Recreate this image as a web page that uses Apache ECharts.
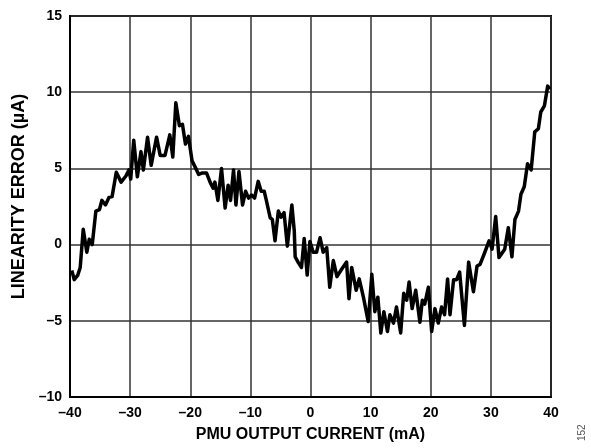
<!DOCTYPE html>
<html>
<head>
<meta charset="utf-8">
<script src="https://cdn.jsdelivr.net/npm/echarts@6/dist/echarts.min.js"></script>
<style>html,body{margin:0;padding:0;background:#fff}#c{width:591px;height:448px}</style>
</head>
<body>
<div id="c"></div>
<script>
const currentMA = [
  -39.7,-39.3,-38.7,-38.3,-37.8,-37.2,-36.8,-36.3,-35.7,-35.1,-34.7,-34.1,-33.5,-33.0,-32.3,-31.5,-30.7,-30.2,-29.9,-29.4,
  -28.8,-28.2,-27.8,-27.1,-26.5,-25.6,-25.0,-24.2,-23.9,-23.4,-22.9,-22.4,-21.8,-21.3,-20.8,-20.3,-19.7,-19.2,-18.6,-18.0,
  -17.3,-16.7,-16.2,-15.9,-15.4,-14.8,-14.2,-13.7,-13.3,-12.8,-12.4,-11.9,-11.3,-10.8,-10.3,-9.8,-9.3,-8.7,-8.2,-7.7,
  -7.4,-6.7,-6.35,-5.9,-5.35,-4.9,-4.4,-3.85,-3.1,-2.7,-2.55,-2.0,-1.5,-1.05,-0.55,-0.1,0.45,1.0,1.6,2.1,
  2.7,3.2,3.8,4.4,5.2,6.0,6.4,6.85,7.6,8.1,8.8,9.6,10.2,10.7,11.2,11.7,12.2,12.8,13.2,13.8,
  14.3,15.0,15.5,16.0,16.4,16.9,17.5,18.2,18.6,19.0,19.6,20.15,20.7,21.25,21.8,22.3,22.8,23.2,23.8,24.3,
  24.8,25.6,26.3,27.1,27.7,28.2,28.9,29.7,30.2,30.8,31.35,32.3,32.9,33.5,34.0,34.6,35.0,35.55,36.1,36.7,
  37.3,37.9,38.3,38.9,39.45,39.8
];
const errorUA = [
  -1.7,-2.3,-2.0,-1.5,1.0,-0.5,0.35,0.0,2.2,2.3,2.9,2.6,3.1,3.15,4.75,4.1,4.5,4.9,4.3,6.85,
  4.45,6.1,4.9,7.05,5.2,7.05,5.85,5.85,5.9,7.2,5.75,9.3,7.8,7.9,6.6,7.1,5.5,5.1,4.6,4.7,
  4.7,4.1,3.7,4.1,2.9,5.0,2.4,3.9,2.9,4.9,2.6,4.8,2.6,3.5,3.05,3.25,3.05,4.15,3.5,3.5,
  3.0,1.75,1.65,0.25,2.2,1.8,2.1,-0.1,2.6,0.9,-0.8,-1.2,-1.5,0.4,-2.0,0.2,-0.5,-0.5,0.45,-0.5,
  -0.2,-2.8,-1.05,-2.1,-1.6,-1.15,-3.55,-1.5,-3.0,-2.25,-3.45,-5.05,-1.95,-4.4,-3.45,-5.8,-4.4,-5.7,-4.6,-5.15,
  -4.1,-5.8,-3.2,-3.65,-2.45,-4.2,-3.0,-5.1,-3.65,-3.9,-2.8,-5.7,-4.2,-5.15,-4.1,-4.6,-2.25,-4.6,-2.3,-2.3,
  -1.8,-5.3,-1.15,-3.1,-1.4,-1.3,-0.6,0.25,-0.3,1.85,-0.85,-0.3,1.1,-0.8,1.65,2.2,3.3,3.8,5.3,4.9,
  7.4,7.6,8.7,9.1,10.4,10.2
];
const xTicks = { min: -40, max: 40, interval: 10 };
const yTicks = { min: -10, max: 15, interval: 5 };
const xTitle = 'PMU OUTPUT CURRENT (mA)';
const yTitle = 'LINEARITY ERROR (µA)';
const figNote = '152';

const seriesData = currentMA.map((x, i) => [x, errorUA[i]]);
const fmt = v => String(v).replace('-', '\u2013');
const font = 'Liberation Sans, Arial, Helvetica, sans-serif';

const chart = echarts.init(document.getElementById('c'), null, { renderer: 'canvas' });
chart.setOption({
  animation: false,
  backgroundColor: '#fff',
  grid: { left: 70, right: 40, top: 16, bottom: 47, show: true, borderColor: '#000', borderWidth: 2, backgroundColor: 'transparent' },
  xAxis: {
    type: 'value', min: xTicks.min, max: xTicks.max, interval: xTicks.interval,
    name: xTitle, nameLocation: 'middle', nameGap: 30,
    nameTextStyle: { fontFamily: font, fontWeight: 'bold', fontSize: 16, color: '#000' },
    axisLine: { show: true, onZero: false, lineStyle: { color: '#000', width: 2 } },
    axisTick: { show: false },
    axisLabel: { formatter: fmt, fontFamily: font, fontWeight: 'bold', fontSize: 14, color: '#000', margin: 9 },
    splitLine: { show: true, lineStyle: { color: '#333', width: 1.5 } }
  },
  yAxis: {
    type: 'value', min: yTicks.min, max: yTicks.max, interval: yTicks.interval,
    name: yTitle, nameLocation: 'middle', nameGap: 42,
    nameTextStyle: { fontFamily: font, fontWeight: 'bold', fontSize: 18, color: '#000', padding: [0, 0, 0, 20] },
    axisLine: { show: true, onZero: false, lineStyle: { color: '#000', width: 2 } },
    axisTick: { show: false },
    axisLabel: { formatter: fmt, fontFamily: font, fontWeight: 'bold', fontSize: 14, color: '#000', margin: 8 },
    splitLine: { show: true, lineStyle: { color: '#333', width: 1.5 } }
  },
  series: [{
    type: 'line', data: seriesData, showSymbol: false, symbol: 'none',
    lineStyle: { color: '#000', width: 3.5, join: 'round' }, z: 5
  }],
  graphic: [{
    type: 'text', x: 577, y: 441, rotation: Math.PI / 2,
    style: { text: figNote, fontFamily: font, fontSize: 10, fill: '#555', align: 'left', verticalAlign: 'top' }
  }]
});
</script>
</body>
</html>
